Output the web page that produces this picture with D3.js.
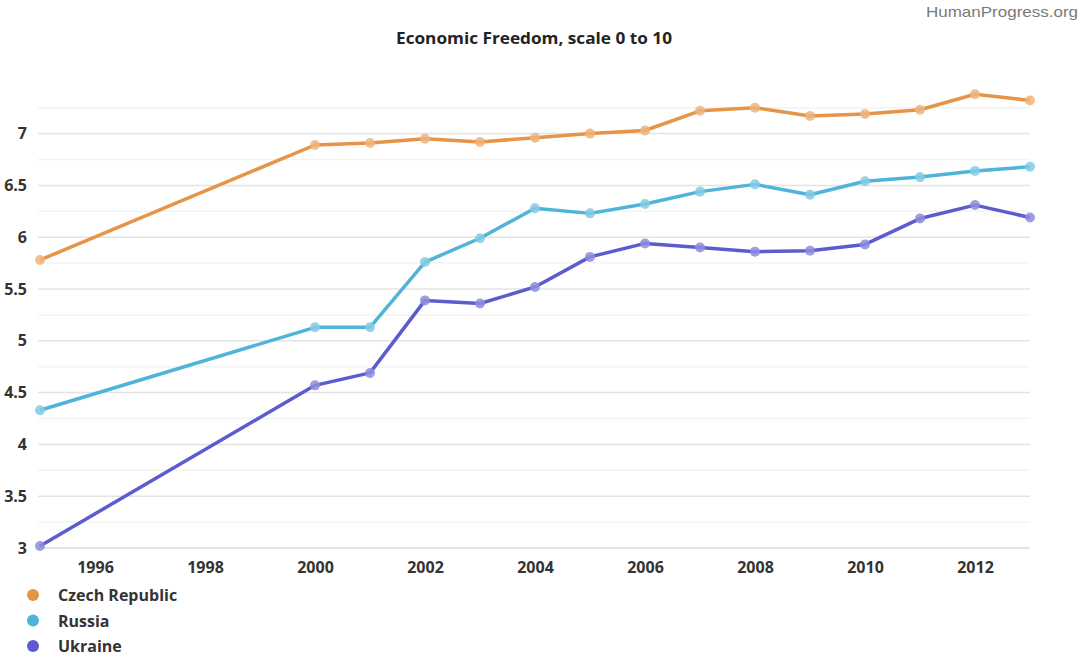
<!DOCTYPE html>
<html>
<head>
<meta charset="utf-8">
<script src="https://cdn.jsdelivr.net/npm/d3@7"></script>
<style>
  html, body { margin: 0; padding: 0; background: #fff; }
  svg { display: block; font-family: "Open Sans", "Noto Sans", sans-serif; }
</style>
</head>
<body>
<svg id="chart" width="1083" height="660"></svg>
<script>
// Economic Freedom index, scale 0 to 10
const years = [1995, 2000, 2001, 2002, 2003, 2004, 2005, 2006, 2007, 2008, 2009, 2010, 2011, 2012, 2013];
const czechRepublic = [5.78, 6.89, 6.91, 6.95, 6.92, 6.96, 7.00, 7.03, 7.22, 7.25, 7.17, 7.19, 7.23, 7.38, 7.32];
const russia        = [4.33, 5.13, 5.13, 5.76, 5.99, 6.28, 6.23, 6.32, 6.44, 6.51, 6.41, 6.54, 6.58, 6.64, 6.68];
const ukraine       = [3.02, 4.57, 4.69, 5.39, 5.36, 5.52, 5.81, 5.94, 5.90, 5.86, 5.87, 5.93, 6.18, 6.31, 6.19];
const seriesNames = ["Czech Republic", "Russia", "Ukraine"];
const seriesColors = ["#e69447", "#4fb4d8", "#5c5ccf"];
const xTicks = [1996, 1998, 2000, 2002, 2004, 2006, 2008, 2010, 2012];
const yTicks = [3, 3.5, 4, 4.5, 5, 5.5, 6, 6.5, 7];
const gridValues = d3.range(3, 7.26, 0.25);

const series = seriesNames.map((name, i) => ({
  name,
  color: seriesColors[i],
  values: [czechRepublic, russia, ukraine][i].map((v, j) => ({ year: years[j], value: v }))
}));

const svg = d3.select("#chart");
const plotLeft = 40, plotRight = 1030, plotBottom = 548;
const labelFont = 16;

const x = d3.scaleLinear().domain([1995, 2013]).range([plotLeft, plotRight]);
const y = d3.scaleLinear().domain([3, 7.5]).range([plotBottom, plotBottom - 4.5 * 103.6]);

// Title and source
svg.append("text")
  .attr("x", 534).attr("y", 44)
  .attr("text-anchor", "middle")
  .attr("font-size", 16.5).attr("font-weight", 700)
  .attr("fill", "#222")
  .attr("textLength", 276).attr("lengthAdjust", "spacingAndGlyphs")
  .text("Economic Freedom, scale 0 to 10");

svg.append("text")
  .attr("x", 926).attr("y", 17)
  .attr("font-size", 15)
  .attr("font-family", "Liberation Sans, Arial, sans-serif")
  .attr("textLength", 152).attr("lengthAdjust", "spacingAndGlyphs")
  .attr("fill", "#7a7a7a")
  .text("HumanProgress.org");

// Gridlines: half-unit lines stronger, quarter-unit lines faint
svg.append("g").selectAll("line")
  .data(gridValues)
  .join("line")
  .attr("x1", plotLeft - 2).attr("x2", plotRight)
  .attr("y1", d => y(d)).attr("y2", d => y(d))
  .attr("stroke", d => Math.abs(d * 2 - Math.round(d * 2)) < 1e-6 ? "#e3e3e3" : "#f3f3f3")
  .attr("stroke-width", d => d === 3 ? 2 : 1.5);

// Y axis labels
const yAxis = d3.axisLeft(y).tickValues(yTicks).tickSize(0).tickPadding(0)
  .tickFormat(d3.format("~g"));
svg.append("g")
  .attr("transform", `translate(${plotLeft - 13},0)`)
  .call(yAxis)
  .call(g => g.select(".domain").remove())
  .call(g => g.selectAll("text")
    .attr("font-size", labelFont).attr("font-weight", 700)
    .attr("fill", "#333").attr("font-family", "Open Sans, sans-serif"));

// X axis labels
const xAxis = d3.axisBottom(x).tickValues(xTicks).tickSize(0).tickPadding(0)
  .tickFormat(d3.format("d"));
svg.append("g")
  .attr("transform", `translate(0,${plotBottom + 14})`)
  .call(xAxis)
  .call(g => g.select(".domain").remove())
  .call(g => g.selectAll("text")
    .attr("font-size", labelFont).attr("font-weight", 700)
    .attr("fill", "#333").attr("font-family", "Open Sans, sans-serif"));

// Lines
const line = d3.line().x(d => x(d.year)).y(d => y(d.value));
const lines = svg.append("g");
series.forEach(s => {
  lines.append("path")
    .datum(s.values)
    .attr("fill", "none")
    .attr("stroke", s.color)
    .attr("stroke-width", 3.5)
    .attr("stroke-linejoin", "round")
    .attr("d", line);
});

// Point markers
series.forEach(s => {
  lines.append("g").selectAll("circle")
    .data(s.values)
    .join("circle")
    .attr("cx", d => x(d.year))
    .attr("cy", d => y(d.value))
    .attr("r", 5)
    .attr("fill", d3.interpolateRgb(s.color, "#fff")(0.3))
    .attr("fill-opacity", 0.85);
});

// Legend
const legend = svg.append("g");
series.forEach((s, i) => {
  const ly = 595 + i * 25.5;
  legend.append("circle")
    .attr("cx", 33).attr("cy", ly).attr("r", 6)
    .attr("fill", s.color);
  legend.append("text")
    .attr("x", 58).attr("y", ly + 6)
    .attr("font-size", labelFont).attr("font-weight", 700)
    .attr("fill", "#333")
    .text(s.name);
});
</script>
</body>
</html>
